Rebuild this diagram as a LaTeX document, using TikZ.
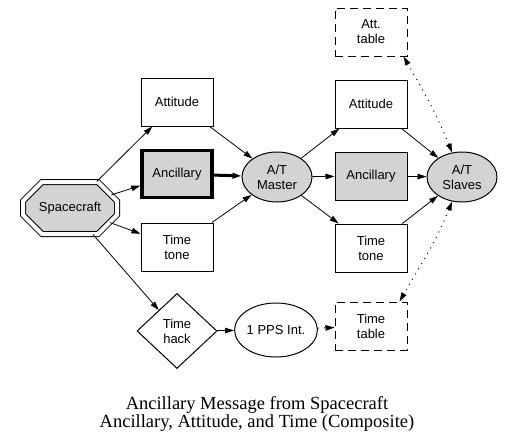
\documentclass[tikz,border=0pt]{standalone}
\usepackage{fontspec}
\setmainfont{Liberation Serif}
\setsansfont{Liberation Sans}
\usetikzlibrary{arrows.meta,shapes.geometric,shapes.misc}
\definecolor{nodegray}{RGB}{211,211,211}

\begin{document}
\begin{tikzpicture}[
    x=1pt,y=1pt,
    lbl/.style={font=\sffamily\fontsize{13}{15}\selectfont,align=center,inner sep=0pt},
    box/.style={lbl,draw,line width=1pt,minimum width=72pt,minimum height=48pt},
    tbl/.style={box,dash pattern=on 8pt off 5pt},
    oval/.style={lbl,draw,ellipse,fill=nodegray,line width=1pt,minimum width=70pt,minimum height=50pt},
    edge/.style={->,line width=0.8pt},
    dots/.style={line width=1pt,dash pattern=on 1pt off 5pt},
    >={Triangle[length=9pt,width=5.5pt]}
]
\useasboundingbox (0,0) rectangle (516,-447);

% left half
\node[lbl,draw,chamfered rectangle,chamfered rectangle xsep=19pt,chamfered rectangle ysep=13pt,
      minimum width=94pt,minimum height=52pt,fill=nodegray,line width=1pt,double,double distance=4pt]
      (craft) at (70,-208) {Spacecraft};
\node[box] (attL) at (177,-102) {Attitude};
\node[box,fill=nodegray,line width=3.5pt,minimum width=70pt,minimum height=47pt] (ancL) at (177,-174) {Ancillary};
\node[box] (toneL) at (177,-247) {Time\\tone};
\node[lbl,draw,diamond,line width=1pt,minimum width=80pt,minimum height=75pt] (hack) at (177,-331) {Time\\hack};

% master and right half
\node[oval] (master) at (277,-177) {A/T\\Master};
\node[box] (attR) at (371,-104) {Attitude};
\node[box,fill=nodegray] (ancR) at (371,-176) {Ancillary};
\node[box] (toneR) at (371,-248) {Time\\tone};
\node[oval] (slaves) at (462,-177) {A/T\\Slaves};
\node[tbl] (attTab) at (371,-32) {Att.\\table};
\node[lbl,draw,ellipse,line width=1pt,minimum width=77pt,minimum height=54pt] (pps) at (276,-330) {1 PPS Int.};
\node[tbl] (timeTab) at (371,-326) {Time\\table};

\draw[edge] (craft)--(attL);
\draw[edge] (craft)--(ancL);
\draw[edge] (craft)--(toneL);
\draw[edge] (craft)--(hack);
\draw[edge] (attL)--(master);
\draw[edge,line width=3pt] (ancL)--(master);
\draw[edge] (toneL)--(master);
\draw[edge] (master)--(attR);
\draw[edge] (master)--(ancR);
\draw[edge] (master)--(toneR);
\draw[edge] (attR)--(slaves);
\draw[edge] (ancR)--(slaves);
\draw[edge] (toneR)--(slaves);
\draw[edge] (hack)--(pps);
\draw[dots,->] (pps)--(timeTab);
\draw[dots,<->] (slaves.112) to[out=112,in=-60] ([xshift=-4pt]attTab.south east);
\draw[dots,<->] (slaves.-112) to[out=-112,in=60] ([xshift=-8pt]timeTab.north east);

\node[align=center,font=\fontsize{18.5}{18}\selectfont] (title) at (257,-414)
    {Ancillary Message from Spacecraft\\Ancillary, Attitude, and Time (Composite)};
\end{tikzpicture}
\end{document}
